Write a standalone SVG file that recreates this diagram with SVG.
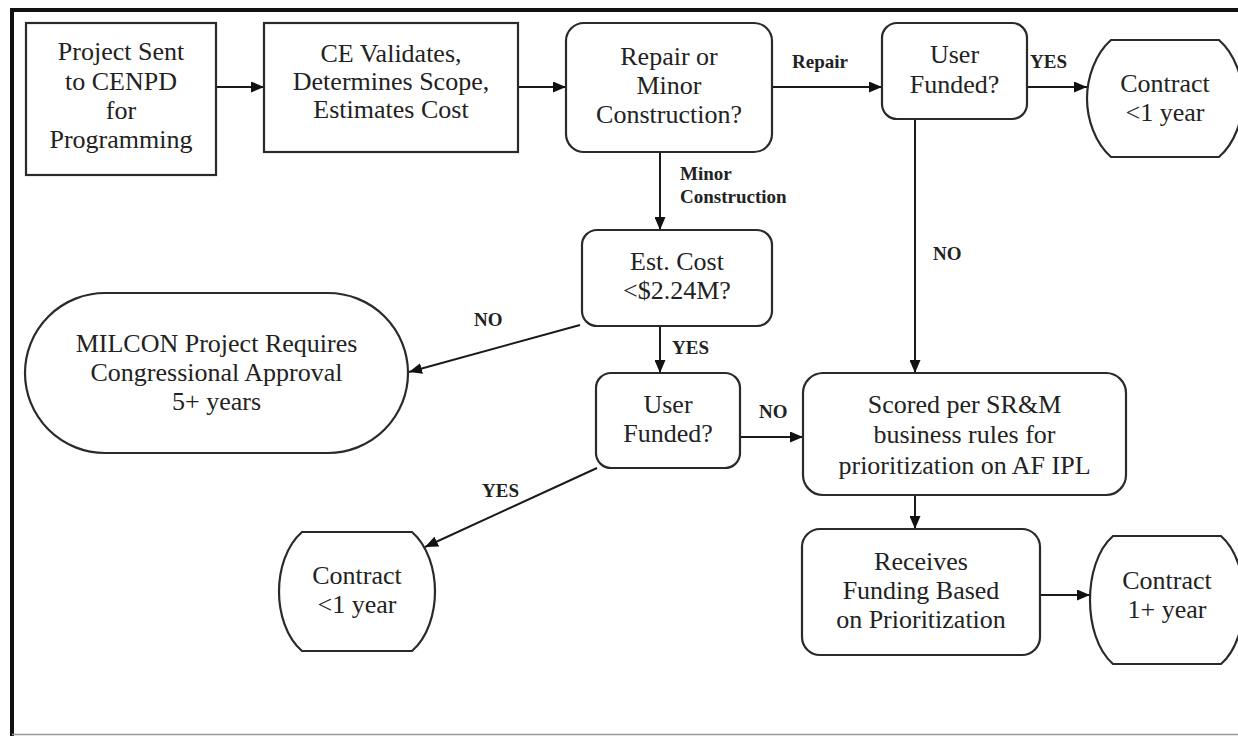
<svg xmlns="http://www.w3.org/2000/svg" width="1238" height="736" viewBox="0 0 1238 736">
<defs>
<marker id="ah" markerUnits="userSpaceOnUse" markerWidth="13" markerHeight="11" refX="13" refY="5.5" orient="auto">
<path d="M0,0 L13,5.5 L0,11 z" fill="#111"/>
</marker>
<style>
.box{fill:#fff;stroke:#2a2a2a;stroke-width:2.2}
.t{font-family:"Liberation Serif","Times New Roman",serif;font-size:26px;fill:#222;text-anchor:middle}
.lbl{font-family:"Liberation Serif","Times New Roman",serif;font-size:19px;font-weight:bold;fill:#222}
.c{stroke:#1a1a1a;stroke-width:2;fill:none;marker-end:url(#ah)}
</style>
</defs>
<rect width="1238" height="736" fill="#fff"/>
<g id="frame">
<line x1="12" y1="10" x2="1238" y2="10" stroke="#111" stroke-width="4"/>
<line x1="12" y1="8" x2="12" y2="736" stroke="#111" stroke-width="4"/>
<line x1="12" y1="734.5" x2="1238" y2="734.5" stroke="#999" stroke-width="1.5"/>
</g>
<g id="connectors">
<line class="c" x1="216" y1="87" x2="264" y2="87"/>
<line class="c" x1="518" y1="87" x2="566" y2="87"/>
<line class="c" x1="772" y1="87" x2="882" y2="87"/>
<line class="c" x1="1027" y1="87" x2="1087" y2="87"/>
<line class="c" x1="660" y1="152" x2="660" y2="230"/>
<line class="c" x1="915" y1="119" x2="915" y2="373"/>
<line class="c" x1="580" y1="325" x2="409" y2="372"/>
<line class="c" x1="660" y1="326" x2="660" y2="373"/>
<line class="c" x1="740" y1="437" x2="803" y2="437"/>
<line class="c" x1="597" y1="468" x2="425" y2="547"/>
<line class="c" x1="915" y1="495" x2="915" y2="529"/>
<line class="c" x1="1040" y1="595" x2="1090" y2="595"/>
<text class="lbl" x="792" y="68">Repair</text>
<text class="lbl" x="1030" y="68">YES</text>
<text class="lbl" x="680" y="180">Minor</text>
<text class="lbl" x="680" y="203">Construction</text>
<text class="lbl" x="933" y="260">NO</text>
<text class="lbl" x="474" y="326">NO</text>
<text class="lbl" x="672" y="354">YES</text>
<text class="lbl" x="759" y="418">NO</text>
<text class="lbl" x="482" y="497">YES</text>
</g>
<g id="n-project">
<rect class="box" x="26" y="23" width="190" height="152"/>
<text class="t" x="121" y="60">Project Sent</text>
<text class="t" x="121" y="90">to CENPD</text>
<text class="t" x="121" y="119">for</text>
<text class="t" x="121" y="148">Programming</text>
</g>
<g id="n-ce">
<rect class="box" x="264" y="23" width="254" height="129"/>
<text class="t" x="391" y="62">CE Validates,</text>
<text class="t" x="391" y="90">Determines Scope,</text>
<text class="t" x="391" y="118">Estimates Cost</text>
</g>
<g id="n-repair">
<rect class="box" x="566" y="23" width="206" height="129" rx="18"/>
<text class="t" x="669" y="65">Repair or</text>
<text class="t" x="669" y="94">Minor</text>
<text class="t" x="669" y="123">Construction?</text>
</g>
<g id="n-userfunded1">
<rect class="box" x="882" y="23" width="145" height="96" rx="15"/>
<text class="t" x="954.5" y="63">User</text>
<text class="t" x="954.5" y="93">Funded?</text>
</g>
<g id="n-contract1">
<path class="box" d="M1111,40 H1219 C1235,54 1243,78 1243,98.5 C1243,119 1235,143 1219,157 H1111 C1095,143 1087,119 1087,98.5 C1087,78 1095,54 1111,40 Z"/>
<text class="t" x="1165" y="92">Contract</text>
<text class="t" x="1165" y="121">&lt;1 year</text>
</g>
<g id="n-estcost">
<rect class="box" x="582" y="230" width="190" height="96" rx="15"/>
<text class="t" x="677" y="270">Est. Cost</text>
<text class="t" x="677" y="299">&lt;$2.24M?</text>
</g>
<g id="n-milcon">
<rect class="box" x="25" y="293" width="383" height="160" rx="80"/>
<text class="t" x="216.5" y="352">MILCON Project Requires</text>
<text class="t" x="216.5" y="381">Congressional Approval</text>
<text class="t" x="216.5" y="410">5+ years</text>
</g>
<g id="n-userfunded2">
<rect class="box" x="596" y="373" width="144" height="95" rx="15"/>
<text class="t" x="668" y="413">User</text>
<text class="t" x="668" y="442">Funded?</text>
</g>
<g id="n-scored">
<rect class="box" x="803" y="373" width="323" height="122" rx="20"/>
<text class="t" x="964.5" y="413">Scored per SR&amp;M</text>
<text class="t" x="964.5" y="443">business rules for</text>
<text class="t" x="964.5" y="474">prioritization on AF IPL</text>
</g>
<g id="n-contract2">
<path class="box" d="M302,532 H412 C428,546 435,570 435,591.5 C435,613 428,637 412,651 H302 C286,637 279,613 279,591.5 C279,570 286,546 302,532 Z"/>
<text class="t" x="357" y="584">Contract</text>
<text class="t" x="357" y="613">&lt;1 year</text>
</g>
<g id="n-receives">
<rect class="box" x="802" y="529" width="238" height="126" rx="18"/>
<text class="t" x="921" y="570">Receives</text>
<text class="t" x="921" y="599">Funding Based</text>
<text class="t" x="921" y="628">on Prioritization</text>
</g>
<g id="n-contract3">
<path class="box" d="M1113,536 H1221 C1237,550 1244,576 1244,600 C1244,624 1237,650 1221,664 H1113 C1097,650 1090,624 1090,600 C1090,576 1097,550 1113,536 Z"/>
<text class="t" x="1167" y="589">Contract</text>
<text class="t" x="1167" y="618">1+ year</text>
</g>
</svg>
